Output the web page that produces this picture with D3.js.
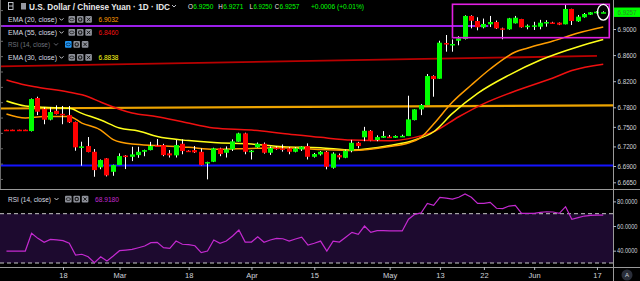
<!DOCTYPE html>
<html>
<head>
<meta charset="utf-8">
<script src="https://cdn.jsdelivr.net/npm/d3@7"></script>
<style>
  body { margin: 0; background: #000; }
  svg { display: block; font-family: "Liberation Sans", Arial, sans-serif; }
</style>
</head>
<body>
<div id="chart"></div>
<script>
// daily candles, Feb 5 .. Jun 18 (index 0..95)
const opens = [6.7456,6.7456,6.7456,6.7456,6.7436,6.7942,6.7773,6.7610,6.7747,6.7700,
  6.7680,6.7574,6.7195,6.7206,6.7118,6.6879,6.7017,6.6811,6.6914,6.7060,
  6.7041,6.7067,6.7118,6.7144,6.7215,6.7221,6.7094,6.7063,6.7241,6.7135,
  6.7144,6.7118,6.6955,6.6965,6.7170,6.7103,6.7155,6.7272,6.7400,6.7130,
  6.7186,6.7241,6.7103,6.7180,6.7170,6.7170,6.7118,6.7155,6.7206,6.7041,
  6.7078,6.7118,6.6873,6.7067,6.7026,6.7134,6.7256,6.7340,6.7440,6.7298,
  6.7333,6.7350,6.7333,6.7360,6.7359,6.7604,6.7768,6.7834,6.8279,6.8238,
  6.8785,6.8760,6.8820,6.8847,6.9200,6.9123,6.9026,6.9072,6.9107,6.9010,
  6.8995,6.9087,6.9153,6.9035,6.9040,6.9035,6.9087,6.9100,6.9097,6.9072,
  6.9307,6.9118,6.9180,6.9220,6.9245,6.9250];
const highs = [6.7456,6.7456,6.7456,6.7456,6.7935,6.7962,6.7800,6.7800,6.7830,6.7820,
  6.7820,6.7580,6.7272,6.7344,6.7160,6.7000,6.7020,6.6920,6.7094,6.7067,
  6.7195,6.7195,6.7150,6.7270,6.7313,6.7240,6.7144,6.7298,6.7308,6.7140,
  6.7206,6.7170,6.6965,6.7180,6.7180,6.7200,6.7308,6.7410,6.7410,6.7145,
  6.7260,6.7260,6.7200,6.7200,6.7230,6.7190,6.7190,6.7200,6.7247,6.7100,
  6.7130,6.7130,6.7110,6.7090,6.7150,6.7300,6.7270,6.7500,6.7450,6.7370,
  6.7435,6.7375,6.7370,6.7380,6.7977,6.7770,6.7850,6.8310,6.8290,6.8820,
  6.8908,6.8840,6.8890,6.9210,6.9210,6.9180,6.9160,6.9200,6.9130,6.9020,
  6.9170,6.9200,6.9155,6.9070,6.9110,6.9140,6.9135,6.9110,6.9100,6.9368,
  6.9310,6.9215,6.9245,6.9260,6.9270,6.9271];
const lows = [6.7450,6.7450,6.7450,6.7450,6.7430,6.7680,6.7540,6.7600,6.7690,6.7540,
  6.7560,6.7134,6.6905,6.7110,6.6735,6.6850,6.6740,6.6750,6.6914,6.6853,
  6.6975,6.7026,6.7050,6.7140,6.7195,6.7050,6.7030,6.7030,6.7080,6.7120,
  6.7100,6.6910,6.6695,6.6960,6.7050,6.7030,6.7130,6.7270,6.7080,6.7000,
  6.7180,6.7090,6.7070,6.7150,6.7120,6.7080,6.7110,6.7130,6.7000,6.7030,
  6.7060,6.6849,6.6860,6.7000,6.7020,6.7110,6.7170,6.7280,6.7280,6.7280,
  6.7330,6.7330,6.7330,6.7350,6.7359,6.7600,6.7680,6.7834,6.7962,6.8238,
  6.8652,6.8652,6.8750,6.8840,6.9010,6.8980,6.9010,6.9030,6.9000,6.8842,
  6.8990,6.9085,6.9020,6.8995,6.8985,6.8995,6.9035,6.9088,6.9060,6.9072,
  6.9061,6.9110,6.9175,6.9215,6.9240,6.9250];
const closes = [6.7450,6.7450,6.7450,6.7450,6.7926,6.7732,6.7610,6.7727,6.7696,6.7676,
  6.7570,6.7186,6.7200,6.7114,6.6837,6.6991,6.6756,6.6914,6.7052,6.7050,
  6.7078,6.7118,6.7144,6.7206,6.7206,6.7067,6.7063,6.7221,6.7129,6.7125,
  6.7109,6.6914,6.6960,6.7170,6.7083,6.7155,6.7278,6.7400,6.7118,6.7135,
  6.7241,6.7103,6.7175,6.7165,6.7168,6.7118,6.7170,6.7195,6.7041,6.7083,
  6.7118,6.6888,6.7090,6.7032,6.7134,6.7256,6.7206,6.7440,6.7287,6.7344,
  6.7360,6.7333,6.7360,6.7362,6.7615,6.7768,6.7834,6.8279,6.8233,6.8790,
  6.8780,6.8770,6.8857,6.9200,6.9127,6.9026,6.9077,6.9107,6.9010,6.8995,
  6.9164,6.9173,6.9026,6.9051,6.9056,6.9097,6.9107,6.9098,6.9066,6.9307,
  6.9123,6.9189,6.9230,6.9256,6.9265,6.9257];

// RSI(14) per bar
const rsi = [39.7,39.7,39.7,39.7,54.1,50.0,46.8,49.2,48.7,48.1,
  46.0,36.5,37.1,35.1,30.2,35.1,31.6,35.7,40.0,40.5,
  41.1,42.4,43.8,46.5,46.8,42.4,41.9,47.8,45.2,44.9,
  44.0,38.4,39.7,48.7,46.0,47.8,51.9,56.8,47.0,47.0,
  51.3,46.8,48.7,50.0,49.7,47.8,49.5,50.9,44.6,46.0,
  47.8,39.7,47.8,47.0,50.9,54.9,53.3,60.0,54.9,56.2,
  56.2,56.0,56.0,56.0,65.5,69.5,70.6,78.4,76.8,83.3,
  82.7,81.9,83.3,86.0,83.3,78.4,78.4,79.2,74.4,74.1,
  76.2,76.8,70.3,70.3,70.3,71.1,71.6,71.4,70.3,75.7,
  65.5,66.8,68.1,68.7,68.9,68.92];

// EMA readings (bar index -> value)
const ema20Idx = [0,3,6,10,12,15,17,20,24,29,33,39,44,50,55,61,64,66,68,71,74,77,81,83,87,91,95];
const ema20 = [6.7696,6.7635,6.7658,6.7658,6.7558,6.7451,6.7305,6.7236,6.7213,6.7186,6.7155,6.7170,6.7180,
  6.7152,6.7137,6.7198,6.7252,6.7339,6.7543,6.7880,6.8141,6.8387,6.8647,6.8709,6.8816,6.8939,6.9032];
const ema30Idx = [0,3,6,10,12,15,18,21,24,29,33,39,44,50,55,61,65,68,71,75,80,85,91,95];
const ema30 = [6.7896,6.7819,6.7799,6.7784,6.7707,6.7604,6.7482,6.7436,6.7351,6.7290,6.7259,6.7236,
  6.7195,6.7180,6.7144,6.7213,6.7298,6.7425,6.7707,6.8014,6.8294,6.8525,6.8729,6.8838];
const ema55Idx = [0,3,5,10,13,15,20,24,28,33,39,44,50,55,61,65,68,72,76,81,87,90,95];
const ema55 = [6.8218,6.8141,6.8106,6.8030,6.7962,6.7880,6.7712,6.7655,6.7578,6.7482,6.7451,6.7400,
  6.7339,6.7298,6.7287,6.7339,6.7425,6.7655,6.7857,6.8050,6.8250,6.8363,6.8460];

// drawings on the chart (bar index, price)
const redTrend = [[-1.03, 6.8428], [94, 6.8587]];
const goldLine = [[-1.03, 6.7781], [96.6, 6.7830]];
const blueLine = [[-1.03, 6.6906], [96.6, 6.6906]];
const purpleLine = [[-1.03, 6.9046], [76.7, 6.9046]];
const boxIdx = [71.0, 95.96];
const boxPrice = [6.9379, 6.8867];

// axes
const priceTicks = [6.90, 6.86, 6.82, 6.78, 6.75, 6.72, 6.69, 6.665];
const rsiTicks = [80, 60, 40];
const tickIdx = [9, 18, 29, 39, 49, 61, 69, 76, 84, 94];
const tickLabels = ["18", "Mar", "18", "Apr", "15", "May", "13", "22", "Jun", "17"];

const W = 640, H = 281;
const paneRight = 613, mainBottom = 189, rsiBottom = 267;

const svg = d3.select("#chart").append("svg").attr("width", W).attr("height", H);
svg.append("rect").attr("width", W).attr("height", H).attr("fill", "#000");

const defs = svg.append("defs");
defs.append("clipPath").attr("id", "mainClip").append("rect")
  .attr("x", 0).attr("y", 0).attr("width", paneRight).attr("height", mainBottom);
defs.append("clipPath").attr("id", "rsiClip").append("rect")
  .attr("x", 0).attr("y", mainBottom).attr("width", paneRight).attr("height", rsiBottom - mainBottom);

const x = d3.scaleLinear().domain([0, 95]).range([6.46, 603.25]);
const y = d3.scaleLinear().domain([6.90, 6.69]).range([29, 166]);
const yR = d3.scaleLinear().domain([70, 30]).range([213.7, 263]);

// ---------- main pane ----------
const main = svg.append("g").attr("clip-path", "url(#mainClip)");

const seg = d3.line().x(d => x(d[0])).y(d => y(d[1]));
main.append("path").attr("d", seg(blueLine)).attr("stroke", "#1414ff").attr("stroke-width", 2).attr("fill", "none");
main.append("path").attr("d", seg(goldLine)).attr("stroke", "#eda400").attr("stroke-width", 2.2).attr("fill", "none");
main.append("path").attr("d", seg(redTrend)).attr("stroke", "#b80000").attr("stroke-width", 1.8).attr("fill", "none");
main.append("path").attr("d", seg(purpleLine)).attr("stroke", "#9a1ee8").attr("stroke-width", 2).attr("fill", "none");

const emaLine = d3.line().curve(d3.curveMonotoneX).x(d => x(d[0])).y(d => y(d[1]));
function drawEma(idx, vals, color) {
  main.append("path")
    .attr("d", emaLine(idx.map((d, i) => [d, vals[i]])))
    .attr("fill", "none").attr("stroke", color).attr("stroke-width", 1.5);
}
drawEma(ema55Idx, ema55, "#f01010");
drawEma(ema30Idx, ema30, "#ffff1a");
drawEma(ema20Idx, ema20, "#ff9d00");

const bars = d3.range(opens.length);
const candles = main.append("g");
candles.selectAll("line").data(bars).enter().append("line")
  .attr("x1", i => Math.round(x(i) - 2.5) + 2.5)
  .attr("x2", i => Math.round(x(i) - 2.5) + 2.5)
  .attr("y1", i => y(highs[i]))
  .attr("y2", i => y(lows[i]))
  .attr("stroke", "#ffffff").attr("stroke-width", 1);
candles.selectAll("rect").data(bars).enter().append("rect")
  .attr("x", i => Math.round(x(i) - 2.5))
  .attr("width", 5)
  .attr("y", i => y(Math.max(opens[i], closes[i])))
  .attr("height", i => Math.max(1.5, Math.abs(y(opens[i]) - y(closes[i]))))
  .attr("fill", i => closes[i] >= opens[i] ? "#00ff00" : "#ff0000");

main.append("rect")
  .attr("x", x(boxIdx[0])).attr("y", y(boxPrice[0]))
  .attr("width", x(boxIdx[1]) - x(boxIdx[0])).attr("height", y(boxPrice[1]) - y(boxPrice[0]))
  .attr("fill", "none").attr("stroke", "#e21fe2").attr("stroke-width", 1.6);
main.append("ellipse")
  .attr("cx", x(95)).attr("cy", y(closes[95]))
  .attr("rx", 5.8).attr("ry", 7.8)
  .attr("fill", "none").attr("stroke", "#ffffff").attr("stroke-width", 1.3);

// ---------- RSI pane ----------
const rp = svg.append("g").attr("clip-path", "url(#rsiClip)");
rp.append("rect").attr("x", 0).attr("width", paneRight)
  .attr("y", yR(70)).attr("height", yR(30) - yR(70)).attr("fill", "#1d0a2f");
[70, 30].forEach(v => {
  rp.append("line").attr("x1", 0).attr("x2", paneRight).attr("y1", yR(v)).attr("y2", yR(v))
    .attr("stroke", "#c8c8c8").attr("stroke-width", 1).attr("stroke-dasharray", "4,3");
});
rp.append("path")
  .attr("d", d3.line().x((d, i) => x(i)).y(d => yR(d))(rsi))
  .attr("fill", "none").attr("stroke", "#c42ad0").attr("stroke-width", 1.2);

// ---------- frame ----------
const frame = "#9a9a9a";
svg.append("line").attr("x1", 0).attr("x2", W).attr("y1", mainBottom + 0.5).attr("y2", mainBottom + 0.5).attr("stroke", frame);
svg.append("line").attr("x1", 0).attr("x2", W).attr("y1", rsiBottom + 0.5).attr("y2", rsiBottom + 0.5).attr("stroke", frame);
svg.append("line").attr("x1", paneRight + 0.5).attr("x2", paneRight + 0.5).attr("y1", 0).attr("y2", H).attr("stroke", frame);
svg.append("line").attr("x1", 0.5).attr("x2", 0.5).attr("y1", 0).attr("y2", mainBottom).attr("stroke", "#6a6a6a");
d3.range(10.6, 186, 15.35).forEach(t => {
  svg.append("line").attr("x1", 0).attr("x2", 3).attr("y1", t).attr("y2", t).attr("stroke", "#6a6a6a");
});

// axes
function styleAxis(g, len, size) {
  g.select(".domain").remove();
  g.selectAll(".tick line").attr("stroke", "#b2b5be");
  g.selectAll(".tick text").attr("fill", "#d1d4dc").style("font-size", size + "px")
    .attr("font-family", "Liberation Sans, Arial, sans-serif");
  if (len) g.selectAll(".tick text").attr("textLength", len).attr("lengthAdjust", "spacingAndGlyphs");
}
svg.append("g").attr("transform", `translate(${paneRight},0)`)
  .call(d3.axisRight(y).tickValues(priceTicks).tickFormat(d3.format(".4f")).tickSize(3).tickPadding(1.5))
  .call(g => styleAxis(g, 19, 7.5));
svg.append("g").attr("transform", `translate(${paneRight},0)`)
  .call(d3.axisRight(yR).tickValues(rsiTicks).tickFormat(d3.format(".4f")).tickSize(3).tickPadding(1))
  .call(g => styleAxis(g, 20.5, 6.6));
svg.append("g").attr("transform", `translate(0,${rsiBottom})`)
  .call(d3.axisBottom(x).tickValues(tickIdx).tickFormat((d, i) => tickLabels[i]).tickSize(3).tickPadding(3))
  .call(g => styleAxis(g, null, 7.5));

// last price label
svg.append("rect").attr("x", paneRight + 1).attr("y", y(closes[95]) - 4.7).attr("width", W - paneRight).attr("height", 9.4).attr("fill", "#00ff00");
svg.append("text").attr("x", 617.5).attr("y", y(closes[95]) + 2.6).text(d3.format(".4f")(closes[95]))
  .attr("fill", "#2e8a2e").style("font-size", "7.5px").attr("textLength", 19).attr("lengthAdjust", "spacingAndGlyphs");

// auto-scale button
svg.append("circle").attr("cx", 627).attr("cy", 275).attr("r", 5.5).attr("fill", "#2a2e39");
svg.append("text").attr("x", 627).attr("y", 277.3).attr("text-anchor", "middle").text("A")
  .attr("fill", "#d1d4dc").style("font-size", "6px");

// ---------- legends ----------
function label(s, x0, yb, color, size, len, weight) {
  const t = svg.append("text").attr("x", x0).attr("y", yb).text(s)
    .attr("fill", color).style("font-size", size + "px").style("font-weight", weight || "normal");
  if (len) t.attr("textLength", len).attr("lengthAdjust", "spacingAndGlyphs");
  return t;
}
function caret(x0, yc, color) {
  svg.append("path").attr("d", `M${x0},${yc - 1} l2,2 l2,-2`).attr("fill", "none")
    .attr("stroke", color).attr("stroke-width", 0.9);
}
function icons(x0, yc, blue) {
  [0, 1, 2].forEach(k => {
    const bx = x0 + k * 8.4;
    svg.append("rect").attr("x", bx).attr("y", yc - 3.2).attr("width", 6.6).attr("height", 6.6).attr("rx", 1)
      .attr("fill", k === 0 && blue ? "#2196f3" : "#8d9099");
    const ink = k === 0 && blue ? "#0b2a4a" : "#1a1a1a";
    if (k === 0) {
      svg.append("ellipse").attr("cx", bx + 3.3).attr("cy", yc + 0.1).attr("rx", 2.2).attr("ry", 1.4)
        .attr("fill", "none").attr("stroke", ink).attr("stroke-width", 0.8);
    } else if (k === 1) {
      svg.append("circle").attr("cx", bx + 3.3).attr("cy", yc + 0.1).attr("r", 1.7)
        .attr("fill", "none").attr("stroke", ink).attr("stroke-width", 1.1);
    } else {
      svg.append("path").attr("d", `M${bx + 1.6},${yc - 1.6} l3.4,3.4 M${bx + 5},${yc - 1.6} l-3.4,3.4`)
        .attr("stroke", ink).attr("stroke-width", 1);
    }
  });
}

// title row
svg.append("rect").attr("x", 8.5).attr("y", 2.5).attr("width", 4.5).attr("height", 7)
  .attr("fill", "none").attr("stroke", "#d1d4dc").attr("stroke-width", 0.9);
svg.append("line").attr("x1", 8.5).attr("x2", 13).attr("y1", 6).attr("y2", 6).attr("stroke", "#d1d4dc").attr("stroke-width", 0.9);
svg.append("rect").attr("x", 21).attr("y", 3).attr("width", 5).attr("height", 6.5).attr("fill", "#9598a1");
label("U.S. Dollar / Chinese Yuan · 1D · IDC", 29, 9.6, "#e8e8ea", 9, 141, "bold");
caret(172, 6, "#d1d4dc");
const ohlcSize = 7.4;
label("O", 188, 9.4, "#e8e8ea", ohlcSize, 5);
label("6.9250", 193.3, 9.4, "#00ff00", ohlcSize, 20);
label("H", 218.3, 9.4, "#e8e8ea", ohlcSize, 4.5);
label("6.9271", 223.3, 9.4, "#00ff00", ohlcSize, 20);
label("L", 249.5, 9.4, "#e8e8ea", ohlcSize, 3.5);
label("6.9250", 253.5, 9.4, "#00ff00", ohlcSize, 18.5);
label("C", 274.7, 9.4, "#e8e8ea", ohlcSize, 4.3);
label("6.9257", 279.5, 9.4, "#00ff00", ohlcSize, 20);
label("+0.0006 (+0.01%)", 311, 9.4, "#00ff00", ohlcSize, 53);

// indicator rows
const rows = [
  { name: "EMA (20, close)", yc: 19.3, val: "6.9032", col: "#ff9d00", dim: false },
  { name: "EMA (55, close)", yc: 32.3, val: "6.8460", col: "#f01010", dim: false },
  { name: "RSI (14, close)", yc: 44.3, val: null, col: null, dim: true },
  { name: "EMA (30, close)", yc: 57.3, val: "6.8838", col: "#ffff1a", dim: false }
];
rows.forEach(r => {
  const c = r.dim ? "#6f727c" : "#d9dbe0";
  label(r.name, 8, r.yc + 2.8, c, 8, r.dim ? 42 : 49);
  caret(r.dim ? 54 : 59.5, r.yc, c);
  icons(r.dim ? 65 : 68.5, r.yc, r.dim);
  if (r.val) label(r.val, 98.5, r.yc + 2.8, r.col, 8, 20);
});

// RSI pane legend
label("RSI (14, close)", 8, 201.8, "#d9dbe0", 8, 43);
caret(54.5, 199, "#d9dbe0");
icons(65, 199, false);
label("68.9180", 95, 201.8, "#c42ad0", 8, 24);
</script>
</body>
</html>
